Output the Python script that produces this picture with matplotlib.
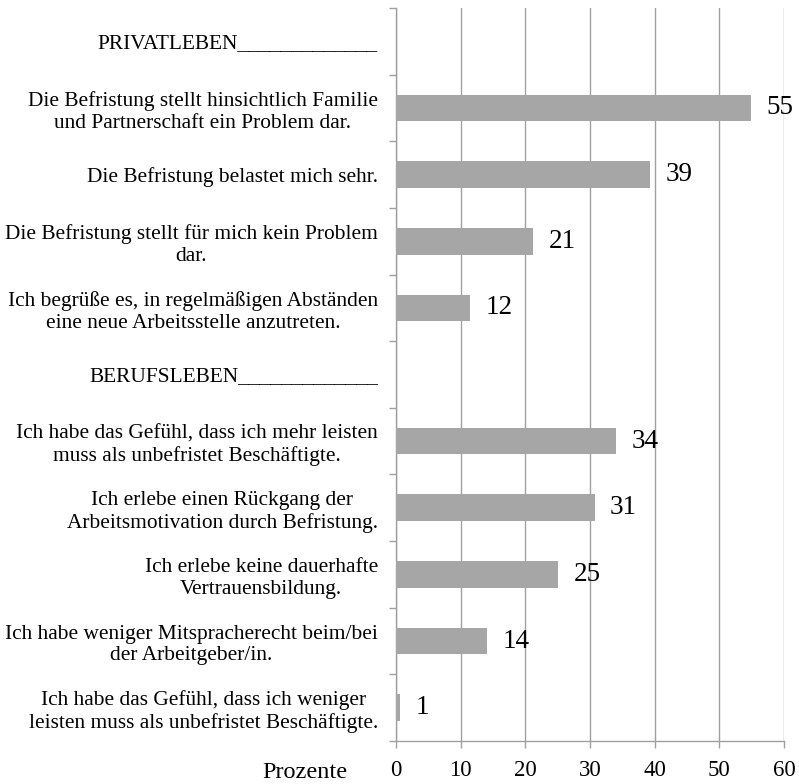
import matplotlib
matplotlib.use("Agg")
import matplotlib.pyplot as plt
import numpy as np

plt.rcParams['font.family'] = ['Liberation Serif', 'DejaVu Serif']

categories = [
    "PRIVATLEBEN_____________",
    "Die Befristung stellt hinsichtlich Familie\nund Partnerschaft ein Problem dar.",
    "Die Befristung belastet mich sehr.",
    "Die Befristung stellt für mich kein Problem\ndar.",
    "Ich begrüße es, in regelmäßigen Abständen\neine neue Arbeitsstelle anzutreten.",
    "BERUFSLEBEN_____________",
    "Ich habe das Gefühl, dass ich mehr leisten\nmuss als unbefristet Beschäftigte.",
    "Ich erlebe einen Rückgang der\nArbeitsmotivation durch Befristung.",
    "Ich erlebe keine dauerhafte\nVertrauensbildung.",
    "Ich habe weniger Mitspracherecht beim/bei\nder Arbeitgeber/in.",
    "Ich habe das Gefühl, dass ich weniger\nleisten muss als unbefristet Beschäftigte.",
]
values = [None, 54.9, 39.3, 21.2, 11.5, None, 34.1, 30.7, 25.1, 14.1, 0.6]
labels = [None, "55", "39", "21", "12", None, "34", "31", "25", "14", "1"]
xticks = [0, 10, 20, 30, 40, 50, 60]

fig = plt.figure(figsize=(7.99, 7.84), dpi=100)
ax = fig.add_axes([0.4956, 0.0548, 0.4856, 0.935])

grid_color = "#a0a0a0"
ypos = np.arange(len(categories))
idx = [i for i, v in enumerate(values) if v is not None]
vals = [values[i] for i in idx]
ax.barh([ypos[i] for i in idx], vals, height=0.4, color="#a6a6a6", zorder=3)
for i in idx:
    ax.annotate(labels[i], xy=(values[i], ypos[i]), xytext=(11, 0),
                textcoords="offset points", va="center", ha="left",
                fontsize=19.5, zorder=4)

ax.set_xlim(0, 60)
ax.set_ylim(len(categories) - 0.5, -0.5)
ax.set_xticks(xticks)
ax.set_xticklabels([str(t) for t in xticks], fontsize=16.5)
ax.set_yticks(ypos)
ax.set_yticklabels(categories, fontsize=15.4, multialignment="center", linespacing=1.2)
ax.set_yticks(np.arange(len(categories) + 1) - 0.5, minor=True)
ax.tick_params(axis="y", which="major", length=0, pad=13)
ax.tick_params(axis="y", which="minor", length=5, color=grid_color, width=1)
ax.tick_params(axis="x", length=5, color=grid_color, width=1, pad=9)

ax.grid(axis="x", color=grid_color, linewidth=1, zorder=0)
for s in ["top", "right"]:
    ax.spines[s].set_visible(False)
for s in ["left", "bottom"]:
    ax.spines[s].set_color(grid_color)
    ax.spines[s].set_linewidth(1)

ax.text(-0.126, -0.043, "Prozente", transform=ax.transAxes, ha="right", va="center",
        fontsize=17.5)

fig.savefig("out.png", dpi=100)
